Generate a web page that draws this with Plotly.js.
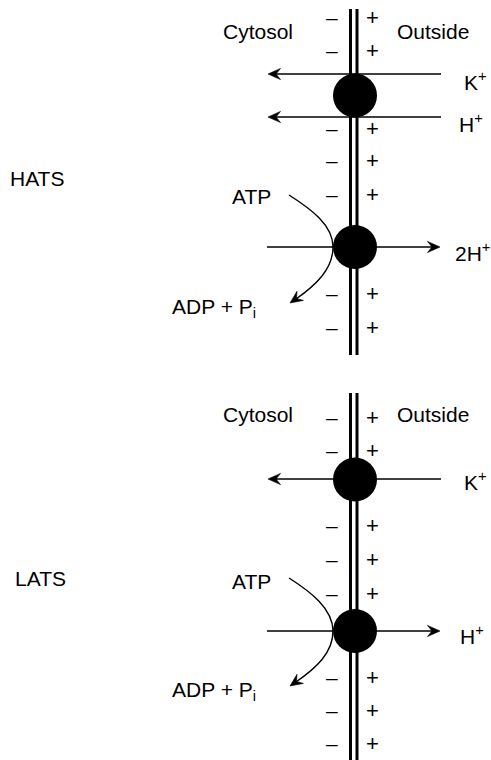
<!DOCTYPE html>
<html>
<head>
<meta charset="utf-8">
<script src="https://cdn.plot.ly/plotly-3.0.1.min.js"></script>
<style>html,body{margin:0;padding:0;background:#fff;}#chart{width:491px;height:760px;}</style>
</head>
<body>
<div id="chart"></div>
<script>
// ---- content ----
const panelNames = ['HATS', 'LATS'];
const sideLabels = ['Cytosol', 'Outside'];
const topIons = ['K<sup>+</sup>', 'H<sup>+</sup>', '2H<sup>+</sup>'];
const bottomIons = ['K<sup>+</sup>', 'H<sup>+</sup>'];
const atpLabel = 'ATP';
const adpLabel = 'ADP + P<sub>i</sub>';
const chargeSigns = ['\u2013', '+'];
const topChargeRows = [17, 50, 128, 160, 194, 293, 327];
const bottomChargeRows = [417, 450, 525, 559, 593, 677, 710, 743];

// ---- drawing ----
const FONT = {family: 'Liberation Sans, Arial, Helvetica, sans-serif', size: 21, color: '#000'};
const SIGNFONT = {family: 'Liberation Sans, Arial, Helvetica, sans-serif', size: 22, color: '#000'};
const shapes = [];
const ann = [];

function text(t, x, y, xanchor) {
  ann.push({text: t, x: x, y: y + 1, xref: 'x', yref: 'y', showarrow: false,
            xanchor: xanchor || 'center', yanchor: 'middle', font: FONT});
}
function line(x0, y0, x1, y1, w) {
  shapes.push({type: 'line', x0: x0, y0: y0, x1: x1, y1: y1, xref: 'x', yref: 'y',
               line: {color: '#000', width: w || 1.4}});
}
function head(x, y, dx, dy) { // filled swept arrowhead, tip at (x,y), pointing along (dx,dy)
  const n = Math.sqrt(dx * dx + dy * dy), ux = dx / n, uy = dy / n;
  const px = -uy, py = ux, L = 12.5, Wh = 5.6, N = 4.5;
  const p = function (a, b) { return (x + ux * a + px * b).toFixed(2) + ',' + (y + uy * a + py * b).toFixed(2); };
  shapes.push({type: 'path', xref: 'x', yref: 'y',
    path: 'M' + p(0, 0) + ' L' + p(-L, Wh) + ' L' + p(-L + N, 0) + ' L' + p(-L, -Wh) + ' Z',
    fillcolor: '#000', line: {color: '#000', width: 0.6}});
}
function membrane(y0, y1) {
  line(350.5, y0, 350.5, y1, 3);
  line(357, y0, 357, y1, 3);
}
function charges(rows) {
  rows.forEach(function (r) {
    ann.push({text: chargeSigns[0], x: 332, y: r, xref: 'x', yref: 'y', showarrow: false,
              xanchor: 'center', yanchor: 'middle', font: FONT});
    ann.push({text: chargeSigns[1], x: 372.5, y: r, xref: 'x', yref: 'y', showarrow: false,
              xanchor: 'center', yanchor: 'middle', font: SIGNFONT});
  });
}
function pump(cy) {
  shapes.push({type: 'circle', xref: 'x', yref: 'y', x0: 333, x1: 377, y0: cy - 22, y1: cy + 22,
               fillcolor: '#000', line: {color: '#000', width: 0}});
}
function inward(y) { // arrow from outside into cytosol
  line(441, y, 274, y);
  head(268, y, -1, 0);
}
function outward(y) { // arrow from cytosol to outside
  line(267, y, 434, y);
  head(440, y, 1, 0);
}
function atpCurve(y0, yv, y1) {
  shapes.push({type: 'path', xref: 'x', yref: 'y',
    path: 'M289,' + y0 + ' C311,' + (y0 + 14) + ' 333,' + (yv - 22) + ' 333,' + yv +
          ' C333,' + (yv + 22) + ' 316,' + (y1 - 18) + ' 296,' + (y1 - 4),
    line: {color: '#000', width: 1.4}});
  head(290, y1, -10, 7);
}

// --- top panel (HATS) ---
membrane(9, 355);
charges(topChargeRows);
inward(74);
inward(117);
outward(247);
atpCurve(195, 247, 303);
pump(95.5);
pump(247);
text(panelNames[0], 8, 177, 'left');
text(sideLabels[0], 258, 30);
text(sideLabels[1], 433, 30);
text(topIons[0], 462, 80, 'left');
text(topIons[1], 457, 122, 'left');
text(topIons[2], 453, 251, 'left');
text(atpLabel, 251, 195);
text(adpLabel, 170, 307, 'left');

// --- bottom panel (LATS) ---
membrane(393, 760);
charges(bottomChargeRows);
inward(479);
outward(631);
atpCurve(578, 631, 686);
pump(479.5);
pump(631);
text(panelNames[1], 13, 577, 'left');
text(sideLabels[0], 258, 413);
text(sideLabels[1], 433, 413);
text(bottomIons[0], 462, 480, 'left');
text(bottomIons[1], 458, 634, 'left');
text(atpLabel, 251, 580);
text(adpLabel, 170, 690, 'left');

const layout = {
  width: 491, height: 760,
  margin: {l: 0, r: 0, t: 0, b: 0, pad: 0},
  paper_bgcolor: '#fff', plot_bgcolor: '#fff',
  showlegend: false,
  xaxis: {range: [0, 491], visible: false, fixedrange: true},
  yaxis: {range: [760, 0], visible: false, fixedrange: true},
  shapes: shapes,
  annotations: ann
};
Plotly.newPlot('chart', [], layout, {staticPlot: true, displayModeBar: false});
</script>
</body>
</html>
